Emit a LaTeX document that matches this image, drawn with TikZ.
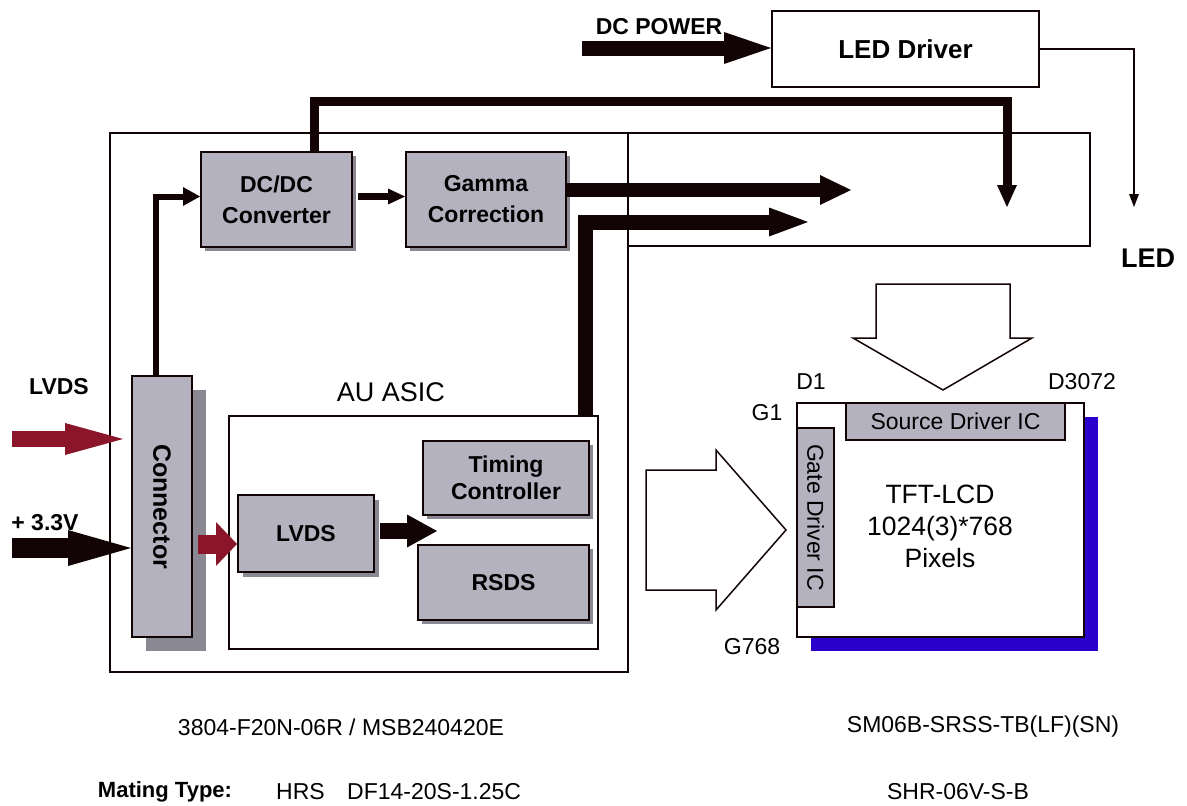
\documentclass[tikz,border=0pt]{standalone}
\usepackage{fontspec}
\setmainfont{Liberation Sans}
\usetikzlibrary{arrows.meta,shadows,backgrounds}
\definecolor{boxgray}{RGB}{181,178,191}
\definecolor{shgray}{RGB}{138,136,146}
\definecolor{darkred}{RGB}{139,22,42}
\definecolor{lcdblue}{RGB}{42,0,205}
\definecolor{ink}{RGB}{18,4,4}
\begin{document}
\begin{tikzpicture}[x=1pt,y=-1pt,
  gbox/.style={draw=ink, line width=2pt, fill=boxgray, inner sep=0pt, align=center,
     font=\bfseries\fontsize{23}{27}\selectfont},
  sh/.style={drop shadow={shadow xshift=#1, shadow yshift=-#1, fill=shgray, opacity=1}},
  wbox/.style={draw=ink, inner sep=0pt},
  lbl/.style={inner sep=0pt, font=\fontsize{#1}{#1}\selectfont},
  blbl/.style={inner sep=0pt, font=\bfseries\fontsize{#1}{#1}\selectfont},
  tip/.style n args={2}{-{Triangle[width=#1pt,length=#2pt,line width=0pt]}},
  hollow/.style={draw=ink, line width=1.5pt, fill=white, line join=miter}
]
\useasboundingbox (0,0) rectangle (1187,806);

% outer frames
\node[wbox, line width=1.2pt, minimum width=518, minimum height=539] (board) at (369,402.5) {};
\node[wbox, line width=1.2pt, minimum width=462, minimum height=113] (panel) at (859,189.5) {};

% top: LED driver
\node[wbox, line width=2pt, minimum width=267, minimum height=76,
      font=\bfseries\fontsize{26}{26}\selectfont] (led) at (905.5,49) {LED Driver};
\node[blbl=23] (dcpower) at (659,27) {DC POWER};
\node[blbl=27] (ledlbl) at (1148,258) {LED};

% blocks
\node[gbox, sh=4pt, minimum width=151, minimum height=95, font=\bfseries\fontsize{23}{31}\selectfont] (dcdc) at (276.5,199.5) {DC/DC\\Converter};
\node[gbox, sh=4pt, minimum width=160, minimum height=95, font=\bfseries\fontsize{23}{31}\selectfont] (gamma) at (486,199.5) {Gamma\\Correction};
\node[gbox, sh=14pt, minimum width=60, minimum height=261, font=\bfseries\fontsize{25}{25}\selectfont] (conn) at (162,506.5) {\rotatebox{-90}{Connector}};
\node[wbox, line width=2pt, minimum width=369, minimum height=233] (asic) at (413.5,532.5) {};
\node[lbl=27] (asiclbl) at (391,392) {AU ASIC};
\node[gbox, sh=5pt, minimum width=136, minimum height=77] (lvds) at (306,533.5) {LVDS};
\node[gbox, sh=4pt, minimum width=166, minimum height=74] (timing) at (506,478) {Timing\\Controller};
\node[gbox, sh=4pt, minimum width=171, minimum height=75] (rsds) at (503.5,582.5) {RSDS};

\node[blbl=23] (lvdslbl) at (59,387) {LVDS};
\node[blbl=23] (vlbl) at (45,523) {+ 3.3V};

% LCD panel
\fill[lcdblue] (811,417) rectangle (1098,651);
\node[wbox, line width=2pt, fill=white, minimum width=287, minimum height=234] (lcd) at (940.5,520) {};
\node[draw=ink, line width=2pt, fill=boxgray, inner sep=0pt, minimum width=219, minimum height=37,
      font=\fontsize{23}{23}\selectfont] (src) at (955.5,421.5) {Source Driver IC};
\node[draw=ink, line width=2pt, fill=boxgray, inner sep=0pt, minimum width=37, minimum height=179,
      font=\fontsize{23}{23}\selectfont] (gate) at (815.5,517.5) {\rotatebox{-90}{Gate Driver IC}};
\node[inner sep=0pt, align=center, font=\fontsize{26.5}{32}\selectfont] (tft) at (940,526) {TFT-LCD\\1024(3)*768\\Pixels};
\node[lbl=23] (d1) at (811,382) {D1};
\node[lbl=23] (d3072) at (1082,382) {D3072};
\node[lbl=23] (g1) at (767,413) {G1};
\node[lbl=23] (g768) at (752,647) {G768};

% hollow arrows
\draw[hollow] (646,470) -- (716,470) -- (716,450) -- (786,530) -- (716,610) -- (716,590) -- (646,590) -- cycle;
\draw[hollow] (876,284) -- (1010,284) -- (1010,338) -- (1032,338) -- (943,390) -- (853,338) -- (876,338) -- cycle;

% coordinates for connector ends
\coordinate (dcpin) at (582,48);
\coordinate (ledtip) at (1134,207);
\coordinate (bltip) at (1007,207);
\coordinate (gtip) at (851,190);
\coordinate (atop) at (585,222);
\coordinate (atip) at (808,222);
\coordinate (lvin) at (12,439);
\coordinate (lvtip) at (123,439);
\coordinate (vin) at (12,548);
\coordinate (r2) at (198,544);
\coordinate (k1) at (380,531);
\coordinate (k2) at (437,531);

% connectors
\draw[ink, line width=15pt, tip={32}{47}] (dcpin) -- (dcpin -| led.west);
\draw[ink, line width=1.2pt, tip={10}{13}] (led.east) -| (ledtip);
\draw[ink, line width=9pt, tip={20}{22}] ([xshift=38pt]dcdc.north) -- ++(0,-50) -| (bltip);
\draw[ink, line width=6pt, tip={19}{17}] ([xshift=-6pt]conn.north) |- ([yshift=3pt]dcdc.west);
\draw[ink, line width=7.5pt, tip={16}{17}] ([shift={(5,-3)}]dcdc.east) -- ([yshift=3pt]gamma.west);
\draw[ink, line width=14pt, tip={30}{31}] (gtip -| gamma.east) -- (gtip);
\draw[ink, line width=15pt, tip={29}{39}] (asic.north -| atop) -- (atop) -- (atip);
\draw[darkred, line width=16pt, tip={32}{58}] (lvin) -- (lvtip);
\draw[ink, line width=20pt, tip={36}{63}] (vin) -- (vin -| conn.west);
\draw[darkred, line width=19pt, tip={44}{21}] (r2) -- (r2 -| lvds.west);
\draw[ink, line width=16pt, tip={33}{30}] (k1) -- (k2);

% bottom texts
\node[lbl=23] (pn1) at (341,727) {3804-F20N-06R / MSB240420E};
\node[lbl=23] (pn2) at (983,727) {SM06B-SRSS-TB(LF)(SN)};
\node[blbl=22] (mt) at (165,792) {Mating Type:};
\node[lbl=23, anchor=west] (hrs) at (276,792) {HRS};
\node[lbl=23, anchor=west] (df) at (347,792) {DF14-20S-1.25C};
\node[lbl=23] (shr) at (958,792) {SHR-06V-S-B};
\end{tikzpicture}
\end{document}
